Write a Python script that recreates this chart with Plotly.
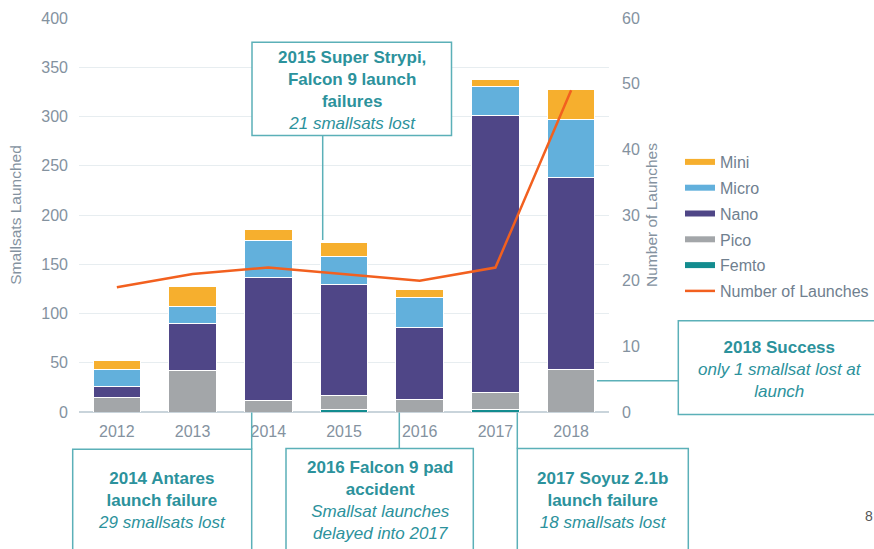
import plotly.graph_objects as go

# ---- data ----
years = ["2012", "2013", "2014", "2015", "2016", "2017", "2018"]
femto = [0, 0, 0, 3, 0, 3, 0]
pico = [15, 42, 12, 14, 13, 17, 43]
nano = [11, 48, 125, 112, 73, 281, 195]
micro = [17, 17, 37, 29, 30, 29, 59]
mini = [9, 20, 11, 14, 8, 8, 30]
launches = [19, 21, 22, 21, 20, 22, 49]

series_names = ["Femto", "Pico", "Nano", "Micro", "Mini"]
series_values = [femto, pico, nano, micro, mini]
series_colors = ["#138C8F", "#A3A6A9", "#4F4687", "#62B0DC", "#F6AF2E"]
line_color = "#F2601F"
teal = "#5BB0B8"
teal_text = "#2C929C"
gray_text = "#84929F"
FONT = "Liberation Sans, Arial, sans-serif"

fig = go.Figure()

for name, vals, col in zip(series_names, series_values, series_colors):
    fig.add_trace(go.Bar(
        x=years, y=vals, name=name, marker=dict(color=col, line=dict(color="white", width=1)),
        showlegend=False, yaxis="y"))

fig.add_trace(go.Scatter(
    x=years, y=launches, name="Number of Launches", mode="lines",
    line=dict(color=line_color, width=2.5), yaxis="y2", showlegend=False))

# legend-only entries (short thick lines like the original)
legend_order = ["Mini", "Micro", "Nano", "Pico", "Femto"]
for i, name in enumerate(legend_order):
    col = series_colors[series_names.index(name)]
    fig.add_trace(go.Scatter(x=[None], y=[None], mode="lines", name=name,
                             line=dict(color=col, width=6), legendgroup=name,
                             legendrank=i + 1))
fig.add_trace(go.Scatter(x=[None], y=[None], mode="lines", name="Number of Launches",
                         line=dict(color=line_color, width=2.5), legendgroup="launch",
                         legendrank=10))

# pixel -> paper helpers
X0, W = 79, 530
YB, H = 412, 394


def PX(x):
    return (x - X0) / W


def PY(y):
    return (YB - y) / H


shapes = []
annos = []


def box(x0, x1, y0, y1):
    shapes.append(dict(type="rect", xref="paper", yref="paper", x0=PX(x0), x1=PX(x1),
                       y0=PY(y1), y1=PY(y0), line=dict(color=teal, width=1.5),
                       fillcolor="white", layer="above"))


def seg(x0, y0, x1, y1):
    shapes.append(dict(type="line", xref="paper", yref="paper", x0=PX(x0), x1=PX(x1),
                       y0=PY(y0), y1=PY(y1), line=dict(color=teal, width=1.5), layer="above"))


def label(cx, cy, text, size=17):
    annos.append(dict(xref="paper", yref="paper", x=PX(cx), y=PY(cy), text=text,
                      showarrow=False, xanchor="center", yanchor="middle", align="center",
                      font=dict(family=FONT, size=size, color=teal_text)))


# 2015 box
box(252, 451.5, 42.3, 135.5)
seg(322.7, 135.5, 322.7, 240)
label(351.7, 90, "<b>2015 Super Strypi,</b><br><b>Falcon 9 launch</b><br><b>failures</b><br><i>21 smallsats lost</i>")
# 2014 box
box(72.7, 251.7, 449.3, 620)
seg(251.7, 412.5, 251.7, 449.3)
label(162.2, 500, "<b>2014 Antares</b><br><b>launch failure</b><br><i>29 smallsats lost</i>")
# 2016 box
box(286, 473.3, 448.5, 620)
seg(399.3, 412.5, 399.3, 448.5)
label(379.7, 500.3, "<b>2016 Falcon 9 pad</b><br><b>accident</b><br><i>Smallsat launches</i><br><i>delayed into 2017</i>")
# 2017 box
box(517.3, 688.3, 448.5, 620)
seg(517.3, 412.5, 517.3, 448.5)
label(602.8, 500, "<b>2017 Soyuz 2.1b</b><br><b>launch failure</b><br><i>18 smallsats lost</i>")
# 2018 box
box(678.3, 900, 320.7, 414.5)
seg(597, 380.7, 678.3, 380.7)
label(779.7, 369.2, "<b>2018 Success</b><br><i>only 1 smallsat lost at</i><br><i>launch</i>")

# page number fragment
annos.append(dict(xref="paper", yref="paper", x=PX(863), y=PY(516), text="8", showarrow=False,
                  xanchor="left", yanchor="middle", font=dict(family=FONT, size=14, color="#555555")))

fig.update_layout(
    width=874, height=549,
    margin=dict(l=X0, r=874 - X0 - W, t=18, b=549 - YB, autoexpand=False),
    paper_bgcolor="white", plot_bgcolor="white",
    barmode="stack", bargap=0.37,
    font=dict(family=FONT, color=gray_text, size=16),
    xaxis=dict(type="category", showgrid=False, ticks="", showline=False, zeroline=False,
               tickfont=dict(size=16, color=gray_text), automargin=False, ticklabelstandoff=8),
    yaxis=dict(range=[0, 400], dtick=50, showgrid=True, gridcolor="#E7EDF0", gridwidth=1,
               zeroline=True, zerolinecolor="#C9D4DB", zerolinewidth=1.5, showline=False,
               ticks="", ticklabelstandoff=10, tickfont=dict(size=16, color=gray_text),
               automargin=False,
               title=dict(text="Smallsats Launched", font=dict(size=15.5, color=gray_text), standoff=15)),
    yaxis2=dict(range=[0, 60], dtick=10, overlaying="y", side="right", showgrid=False,
                zeroline=False, showline=False, ticks="", ticklabelstandoff=12,
                tickfont=dict(size=16, color=gray_text), automargin=False,
                title=dict(text="Number of Launches", font=dict(size=15.5, color=gray_text), standoff=7)),
    legend=dict(x=PX(680), y=PY(145), xanchor="left", yanchor="top", bgcolor="rgba(0,0,0,0)",
                font=dict(size=16, color="#70808F"), tracegroupgap=2, itemwidth=30,
                traceorder="grouped"),
    shapes=shapes, annotations=annos,
)

fig.write_html("out.html", config={"displayModeBar": False},
               post_script="document.body.style.margin='0';")
